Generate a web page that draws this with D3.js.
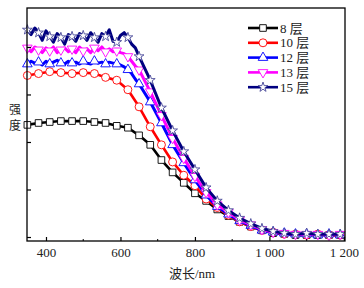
<!DOCTYPE html>
<html lang="zh">
<head>
    <meta charset="UTF-8">
    <title>强度-波长</title>
    <style>
        body { margin: 0; background: #fff; }
        svg { display: block; }
        text { font-family: "Liberation Serif", "Noto Sans CJK SC", serif; }
        .cjk { font-family: "Noto Sans CJK SC", sans-serif; }
    </style>
</head>
<body>
    <div id="graphic"></div>

    <script src="https://cdn.jsdelivr.net/npm/d3@7"></script>
    <script>
        // wavelengths where the markers sit (nm)
        var wl = [350, 380, 410, 440, 470, 500, 530, 560, 590, 620, 650, 680, 710, 740, 770,
                  800, 830, 860, 890, 920, 950, 980, 1010, 1040, 1070, 1100, 1130, 1160, 1190];
        // finer sampling of the noisy plateau
        var wlFine = [350, 360, 370, 380, 390, 400, 410, 420, 430, 440, 450, 460, 470, 480, 490,
                      500, 510, 520, 530, 540, 550, 560, 570, 580, 590, 600, 610, 620, 630, 640];

        var layers = ['8 层', '10 层', '12 层', '13 层', '15 层'];

        var v8  = [118, 120, 121, 122, 122, 122, 121, 120, 117, 115, 107, 97, 81, 68, 57,
                   46, 38, 29, 22, 16, 11, 7, 4, 3, 2, 2, 2, 2, 2];
        var v10 = [170, 172, 174, 173, 172, 173, 172, 168, 165, 155, 137, 116, 97, 79, 65,
                   54, 40, 31, 23, 16, 11, 7, 5, 3, 3, 2, 3, 2, 2];
        var v12 = [182, 184, 182, 183, 183, 185, 185, 182, 182, 176, 161, 142, 120, 97, 78,
                   60, 44, 32, 24, 17, 12, 7, 5, 4, 3, 3, 2, 3, 2];
        var v13 = [199, 197, 196, 197, 198, 196, 199, 195, 196, 190, 176, 153, 128, 104, 83,
                   64, 47, 34, 26, 18, 13, 8, 5, 4, 3, 3, 3, 2, 3];
        var v15 = [218, 215, 211, 210, 211, 212, 210, 211, 205, 210, 190, 165, 136, 112, 90,
                   71, 52, 38, 28, 20, 14, 9, 6, 4, 3, 4, 3, 3, 3];

        var f12 = [182, 185, 183, 184, 181, 185, 182, 184, 186, 183, 182, 185, 183, 184, 182,
                   185, 183, 182, 185, 183, 184, 182, 184, 183, 182, 181, 179, 176, 172, 166];
        var f13 = [199, 195, 200, 197, 194, 199, 196, 200, 194, 197, 199, 195, 198, 194, 200,
                   196, 198, 194, 199, 196, 200, 195, 198, 195, 196, 194, 193, 190, 185, 180];
        var f15 = [218, 213, 220, 215, 207, 217, 211, 205, 214, 210, 203, 213, 211, 206, 214,
                   212, 207, 215, 210, 205, 214, 211, 218, 206, 205, 212, 215, 210, 203, 199];

        var xTicks = [400, 600, 800, 1000, 1200];
        var xTickLabels = ['400', '600', '800', '1 000', '1 200'];
        var xMinor = [500, 700, 900, 1100];
        var yTicks = [0, 50, 100, 150, 200];

        var width = 364;
        var height = 288;
        // plot box (window.top is read-only, so prefixed names)
        var pL = 27, pR = 345, pT = 8, pB = 241;

        var x = d3.scaleLinear().domain([349, 1203]).range([pL, pR]);
        var y = d3.scaleLinear().domain([-4.2, 241]).range([pB, pT]);

        var series = [
            {name: layers[0], v: v8,  fine: null, color: '#000000', sym: 'square'},
            {name: layers[1], v: v10, fine: null, color: '#ff0000', sym: 'circle'},
            {name: layers[2], v: v12, fine: f12,  color: '#0000ff', sym: 'up'},
            {name: layers[3], v: v13, fine: f13,  color: '#ff00ff', sym: 'down'},
            {name: layers[4], v: v15, fine: f15,  color: '#000080', sym: 'star'}
        ];

        var svg = d3.select('#graphic')
            .append('svg')
            .attr('width', width)
            .attr('height', height);

        var line = d3.line()
            .x(function(d) { return x(d[0]); })
            .y(function(d) { return y(d[1]); });

        function linePoints(s) {
            var pts = [];
            if (s.fine) {
                wlFine.forEach(function(w, i) { pts.push([w, s.fine[i]]); });
                wl.forEach(function(w, i) { if (w >= 650) pts.push([w, s.v[i]]); });
            } else {
                wl.forEach(function(w, i) { pts.push([w, s.v[i]]); });
            }
            return pts;
        }

        function symbolPath(sym) {
            if (sym === 'square') return d3.symbol(d3.symbolSquare, 44)();
            if (sym === 'circle') return d3.symbol(d3.symbolCircle, 50)();
            if (sym === 'up') return d3.symbol(d3.symbolTriangle, 40)();
            if (sym === 'down') return d3.symbol(d3.symbolTriangle, 40)();
            return d3.symbol(d3.symbolStar, 30)();
        }

        function drawMarker(g, s, px, py) {
            g.append('path')
                .attr('d', symbolPath(s.sym))
                .attr('transform', 'translate(' + px + ',' + py + ')' + (s.sym === 'down' ? ' rotate(180)' : ''))
                .attr('fill', '#fff')
                .attr('stroke', s.sym === 'star' ? '#4a4a9a' : s.color)
                .attr('stroke-width', 0.9);
        }

        var plot = svg.append('g');

        series.forEach(function(s) {
            var g = plot.append('g');
            g.append('path')
                .attr('d', line(linePoints(s)))
                .attr('fill', 'none')
                .attr('stroke', s.color)
                .attr('stroke-width', s.fine ? 3 : 2.6)
                .attr('stroke-linejoin', 'round');
            wl.forEach(function(w, i) {
                drawMarker(g, s, x(w), y(s.v[i]));
            });
        });

        // frame
        svg.append('rect')
            .attr('x', pL).attr('y', pT)
            .attr('width', pR - pL).attr('height', pB - pT)
            .attr('fill', 'none')
            .attr('stroke', '#000')
            .attr('stroke-width', 1.3);

        // ticks point inward
        var xAxis = d3.axisBottom(x).tickValues(xTicks).tickSize(-4)
            .tickFormat(function(d, i) { return xTickLabels[i]; });
        var gx = svg.append('g')
            .attr('transform', 'translate(0,' + pB + ')')
            .call(xAxis);
        gx.select('.domain').remove();
        gx.selectAll('line').attr('stroke-width', 1.2);
        gx.selectAll('text')
            .attr('font-size', 13)
            .attr('y', 7)
            .attr('fill', '#222');
        gx.attr('font-family', null);

        svg.append('g').selectAll('line')
            .data(xMinor)
            .join('line')
            .attr('x1', function(d) { return x(d); })
            .attr('x2', function(d) { return x(d); })
            .attr('y1', pB)
            .attr('y2', pB - 2)
            .attr('stroke', '#000')
            .attr('stroke-width', 1);

        var yAxis = d3.axisLeft(y).tickValues(yTicks).tickSize(-4).tickFormat('');
        var gy = svg.append('g')
            .attr('transform', 'translate(' + pL + ',0)')
            .call(yAxis);
        gy.select('.domain').remove();
        gy.selectAll('line').attr('stroke-width', 1.2);

        // axis titles
        svg.append('text')
            .attr('x', 192)
            .attr('y', 278)
            .attr('text-anchor', 'middle')
            .attr('font-size', 13)
            .attr('fill', '#222')
            .text('波长/nm');

        // vertical title, one character per line
        svg.append('g').selectAll('text')
            .data(['强', '度'])
            .join('text')
            .attr('class', 'cjk')
            .attr('x', 15)
            .attr('y', function(d, i) { return 114 + i * 16; })
            .attr('text-anchor', 'middle')
            .attr('font-size', 12)
            .attr('fill', '#222')
            .text(function(d) { return d; });

        // legend
        var legend = svg.append('g');
        series.forEach(function(s, i) {
            var ly = 28 + i * 14.8;
            var g = legend.append('g');
            g.append('line')
                .attr('x1', 248).attr('x2', 278)
                .attr('y1', ly).attr('y2', ly)
                .attr('stroke', s.color)
                .attr('stroke-width', 2.6);
            drawMarker(g, s, 263, ly);
            g.append('text')
                .attr('x', 280)
                .attr('y', ly + 4.5)
                .attr('font-size', 13)
                .attr('fill', '#222')
                .text(s.name);
        });
    </script>
</body>
</html>
